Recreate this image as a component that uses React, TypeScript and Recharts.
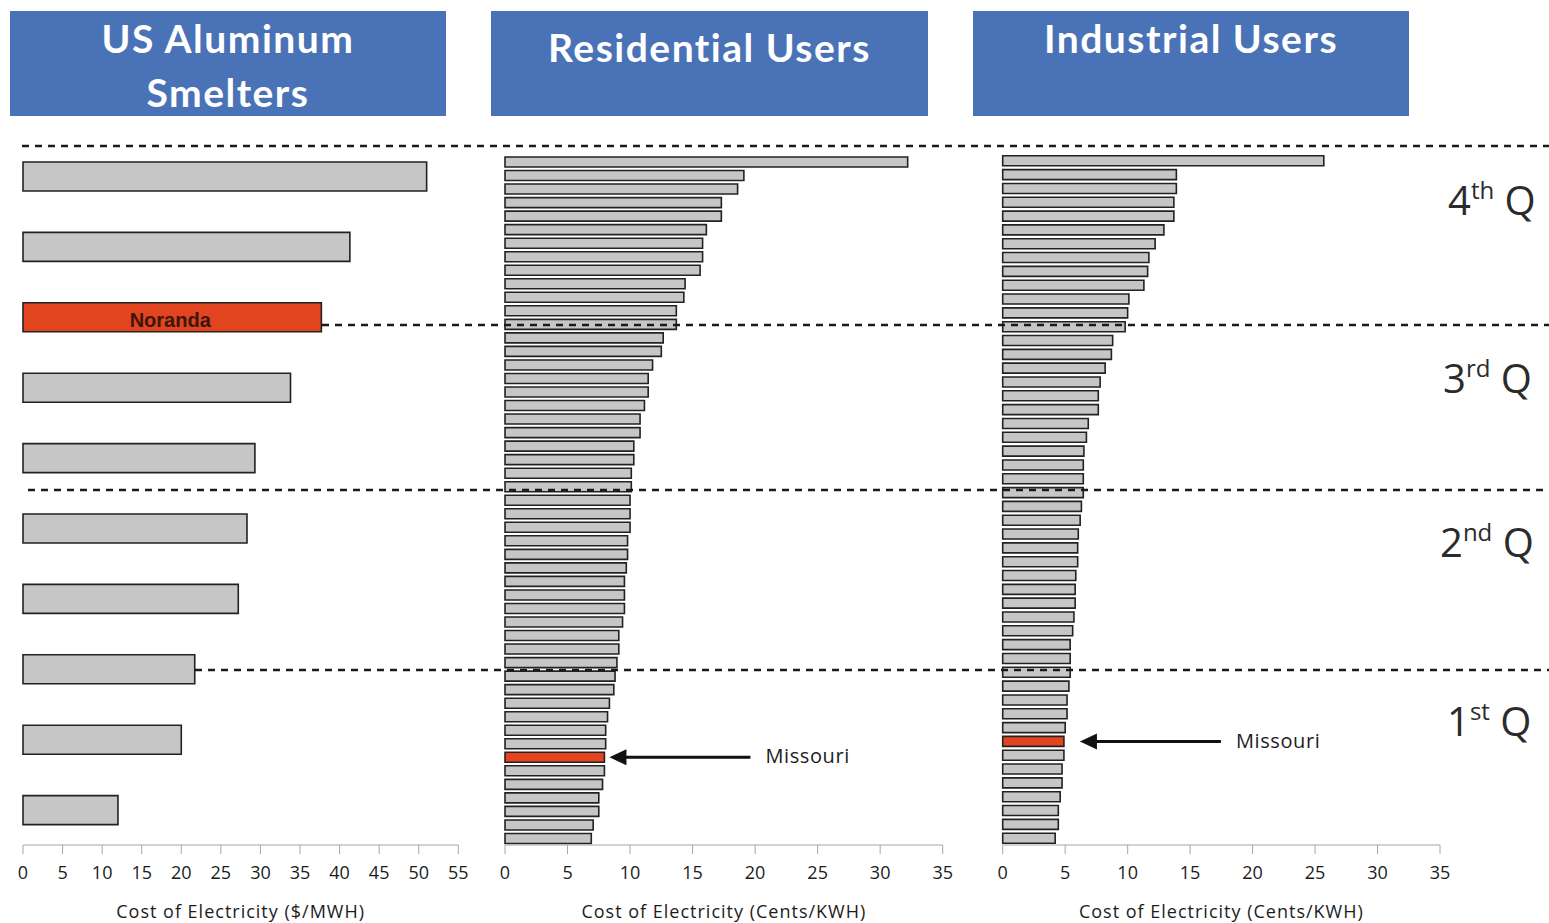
import React from "react";
import { BarChart, Bar, XAxis, YAxis, Cell, LabelList } from "recharts";

// smelters, sorted high -> low ($/MWH)
const smelterNames = ["Smelter A", "Smelter B", "Noranda", "Smelter D", "Smelter E", "Smelter F", "Smelter G", "Smelter H", "Smelter I", "Smelter J"];
const smelterCost = [51.0, 41.3, 37.7, 33.8, 29.3, 28.3, 27.2, 21.7, 20.0, 12.0];
const smelterTicks = [0, 5, 10, 15, 20, 25, 30, 35, 40, 45, 50, 55];

// states, residential (cents/KWH), sorted high -> low
const residentialCost = [
  32.2, 19.1, 18.6, 17.3, 17.3, 16.1, 15.8, 15.8, 15.6, 14.4, 14.3, 13.7, 13.7,
  12.65, 12.5, 11.8, 11.45, 11.45, 11.15, 10.8, 10.8, 10.3, 10.3, 10.1, 10.1, 10.0,
  10.0, 10.0, 9.8, 9.8, 9.7, 9.55, 9.55, 9.55, 9.4, 9.1, 9.1, 8.95, 8.8, 8.7, 8.35,
  8.2, 8.05, 8.05, 7.95, 7.95, 7.8, 7.5, 7.5, 7.05, 6.9,
];
const residentialMissouri = 44;

// states, industrial (cents/KWH), sorted high -> low
const industrialCost = [
  25.7, 13.9, 13.9, 13.7, 13.7, 12.9, 12.2, 11.7, 11.6, 11.3, 10.1, 10.0, 9.8,
  8.8, 8.7, 8.2, 7.8, 7.65, 7.65, 6.85, 6.7, 6.5, 6.45, 6.45, 6.45, 6.3, 6.2,
  6.05, 6.0, 6.0, 5.85, 5.8, 5.8, 5.7, 5.6, 5.4, 5.4, 5.4, 5.3, 5.15, 5.15, 5.0,
  4.9, 4.9, 4.75, 4.75, 4.6, 4.45, 4.45, 4.2,
];
const industrialMissouri = 42;
const stateTicks = [0, 5, 10, 15, 20, 25, 30, 35];

const FONT = "'Open Sans', sans-serif";
const GRAY = "#c6c6c6";
const RED = "#e2441f";
const OUTLINE = "#222";

const smelterData = smelterNames.map((name, i) => ({ name, cost: smelterCost[i], hl: name === "Noranda" }));
const residentialData = residentialCost.map((cost, i) => ({
  name: i === residentialMissouri ? "Missouri" : `State R${i + 1}`,
  cost,
  hl: i === residentialMissouri,
}));
const industrialData = industrialCost.map((cost, i) => ({
  name: i === industrialMissouri ? "Missouri" : `State I${i + 1}`,
  cost,
  hl: i === industrialMissouri,
}));

const norandaLabel = (p: any) => {
  if (p.value !== "Noranda") return null;
  return (
    <text
      x={Number(p.x) + Number(p.width) / 2 - 2}
      y={Number(p.y) + Number(p.height) / 2 + 3}
      dy="0.35em"
      textAnchor="middle"
      fontSize={20}
      fontWeight="bold"
      fontFamily="'Liberation Sans', Arial, sans-serif"
      fill="#3d160a"
    >
      Noranda
    </text>
  );
};

const missouriLabel = (gap: number) => (p: any) => {
  if (p.value !== "Missouri") return null;
  const tip = Number(p.x) + Number(p.width) + gap;
  const cy = Number(p.y) + Number(p.height) / 2;
  return (
    <g>
      <line x1={tip + 12} y1={cy} x2={tip + 141} y2={cy} stroke="#111" strokeWidth={3} />
      <polygon points={`${tip},${cy} ${tip + 17},${cy - 8} ${tip + 17},${cy + 8}`} fill="#111" />
      <text x={tip + 156} y={cy - 1} dy="0.36em" fontSize={20} letterSpacing={0.6} fill="#1c1c1c" fontFamily={FONT}>
        Missouri
      </text>
    </g>
  );
};

function Panel({ data, x, width, top, ml, mr, max, ticks, barSize, axisTitle, label }: any) {
  return (
    <div style={{ position: "absolute", left: x, top: 0 }}>
      <BarChart width={width} height={923} data={data} layout="vertical" margin={{ top, left: ml, right: mr, bottom: 0 }}>
        <XAxis
          type="number"
          domain={[0, max]}
          ticks={ticks}
          interval={0}
          height={78}
          tickSize={9}
          tickMargin={12}
          stroke="#a6a6a6"
          tick={{ fill: "#1c1c1c", fontSize: 18, fontFamily: FONT }}
          label={{
            value: axisTitle,
            position: "insideBottom",
            offset: 5,
            fill: "#1c1c1c",
            fontSize: 18,
            letterSpacing: 1,
            fontFamily: FONT,
          }}
        />
        <YAxis type="category" dataKey="name" hide />
        <Bar dataKey="cost" barSize={barSize} stroke={OUTLINE} strokeWidth={1.6} isAnimationActive={false}>
          {data.map((d: any) => (
            <Cell key={d.name} fill={d.hl ? RED : GRAY} />
          ))}
          <LabelList dataKey="name" content={label} />
        </Bar>
      </BarChart>
    </div>
  );
}

const headerStyle: React.CSSProperties = {
  position: "absolute",
  top: 11,
  height: 105,
  background: "#4a72b6",
  color: "#fff",
  fontFamily: "Lato, sans-serif",
  fontWeight: 700,
  fontSize: 39,
  letterSpacing: 1.5,
  lineHeight: "54px",
  textAlign: "center",
  boxSizing: "border-box",
};

const quartiles = [
  { num: "4", sup: "th", x: 1448, y: 215 },
  { num: "3", sup: "rd", x: 1443, y: 393 },
  { num: "2", sup: "nd", x: 1440, y: 557 },
  { num: "1", sup: "st", x: 1447, y: 736 },
];

const dashLines = [
  { y: 146, x1: 22 },
  { y: 325, x1: 322 },
  { y: 490, x1: 28 },
  { y: 670, x1: 195 },
];

export default function App() {
  return (
    <div style={{ position: "absolute", left: 0, top: 0, width: 1549, height: 923, background: "#fff", overflow: "hidden" }}>
      <div style={{ ...headerStyle, left: 10, width: 436, paddingTop: 0 }}>
        US Aluminum
        <br />
        Smelters
      </div>
      <div style={{ ...headerStyle, left: 491, width: 437, paddingTop: 9 }}>Residential Users</div>
      <div style={{ ...headerStyle, left: 973, width: 436, paddingTop: 0 }}>Industrial Users</div>

      <Panel
        data={smelterData}
        x={0}
        width={480}
        top={141}
        ml={23}
        mr={21.7}
        max={55}
        ticks={smelterTicks}
        barSize={29}
        axisTitle="Cost of Electricity ($/MWH)"
        label={norandaLabel}
      />
      <Panel
        data={residentialData}
        x={480}
        width={520}
        top={155}
        ml={25}
        mr={57.3}
        max={35}
        ticks={stateTicks}
        barSize={10}
        axisTitle="Cost of Electricity (Cents/KWH)"
        label={missouriLabel(5)}
      />
      <Panel
        data={industrialData}
        x={980}
        width={569}
        top={153.8}
        ml={22.7}
        mr={109}
        max={35}
        ticks={stateTicks}
        barSize={10}
        axisTitle="Cost of Electricity (Cents/KWH)"
        label={missouriLabel(16)}
      />

      <svg width={1549} height={923} style={{ position: "absolute", left: 0, top: 0, pointerEvents: "none" }}>
        {dashLines.map((l) => (
          <line key={l.y} x1={l.x1} x2={1549} y1={l.y} y2={l.y} stroke="#1a1a1a" strokeWidth={2.5} strokeDasharray="7 6" />
        ))}
        {quartiles.map((q) => (
          <text key={q.num} x={q.x} y={q.y} fontSize={40} fill="#2b2b2b" fontFamily={FONT}>
            {q.num}
            <tspan fontSize={24} dy={-16}>
              {q.sup}
            </tspan>
            <tspan dy={16}> Q</tspan>
          </text>
        ))}
      </svg>
    </div>
  );
}
